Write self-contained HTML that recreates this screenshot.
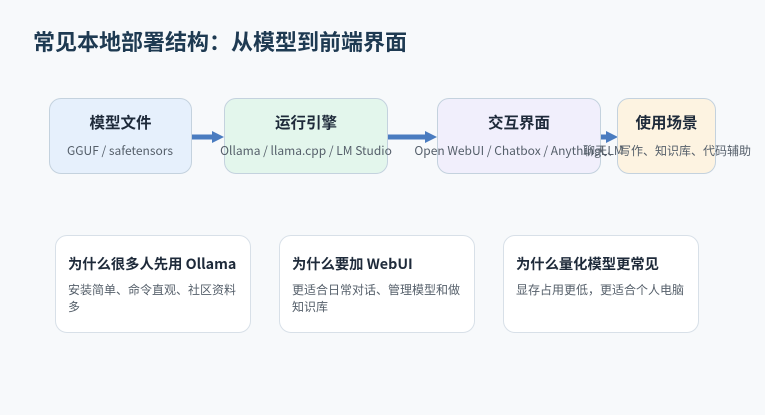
<!DOCTYPE html>
<html><head><meta charset="utf-8"><style>
*{margin:0;padding:0;box-sizing:border-box}
body{width:765px;height:415px;background:#f7f9fb;position:relative;overflow:hidden;font-family:"Noto Sans CJK SC","Liberation Sans",sans-serif}
.t{position:absolute;left:33px;top:25px;font-size:22px;font-weight:bold;color:#1e3a52;white-space:nowrap}
.b{position:absolute;top:98px;height:76px;border:1px solid #c4d2de;border-radius:12px}
.bt{position:absolute;top:111px;font-size:15.5px;font-weight:bold;color:#1e2a3a;text-align:center;white-space:nowrap}
.bs{position:absolute;top:142px;font-size:12px;color:#555f6a;white-space:nowrap;transform:translateX(-50%)}
.c{position:absolute;top:235px;width:196px;height:98px;background:#fff;border:1px solid #d8e0e8;border-radius:12px}
.ct{position:absolute;left:12px;top:17px;font-size:14.3px;font-weight:bold;color:#1e2a3a;white-space:nowrap}
.cb{position:absolute;left:12px;top:45px;width:172px;font-size:12px;line-height:17px;color:#555f6a}
</style></head><body>
<div class="t">常见本地部署结构：从模型到前端界面</div>
<svg style="position:absolute;left:0;top:0" width="765" height="415">
<g fill="#4a7cc0" stroke="#4a7cc0">
<line x1="191" y1="137" x2="214" y2="137" stroke-width="5"/><polygon points="212,131 224,137 212,143" stroke="none"/>
<line x1="388" y1="137" x2="427" y2="137" stroke-width="5"/><polygon points="425,131 437,137 425,143" stroke="none"/>
<line x1="601" y1="137" x2="608" y2="137" stroke-width="5"/><polygon points="606,131 618,137 606,143" stroke="none"/>
</g></svg>
<div class="b" style="left:49px;width:143px;background:#e6f0fc"></div>
<div class="b" style="left:224px;width:164px;background:#e3f6ec"></div>
<div class="b" style="left:437px;width:164px;background:#f1effc"></div>
<div class="b" style="left:617px;width:99px;background:#fdf3e1"></div>
<div class="bt" style="left:49px;width:143px">模型文件</div>
<div class="bt" style="left:224px;width:164px">运行引擎</div>
<div class="bt" style="left:437px;width:164px">交互界面</div>
<div class="bt" style="left:617px;width:99px">使用场景</div>
<div class="bs" style="left:120px">GGUF / safetensors</div>
<div class="bs" style="left:306px">Ollama / llama.cpp / LM Studio</div>
<div class="bs" style="left:519px">Open WebUI / Chatbox / AnythingLLM</div>
<div class="bs" style="left:667px">聊天、写作、知识库、代码辅助</div>
<div class="c" style="left:55px"><div class="ct">为什么很多人先用 Ollama</div><div class="cb">安装简单、命令直观、社区资料多</div></div>
<div class="c" style="left:279px"><div class="ct">为什么要加 WebUI</div><div class="cb">更适合日常对话、管理模型和做知识库</div></div>
<div class="c" style="left:503px"><div class="ct">为什么量化模型更常见</div><div class="cb">显存占用更低，更适合个人电脑</div></div>
</body></html>
